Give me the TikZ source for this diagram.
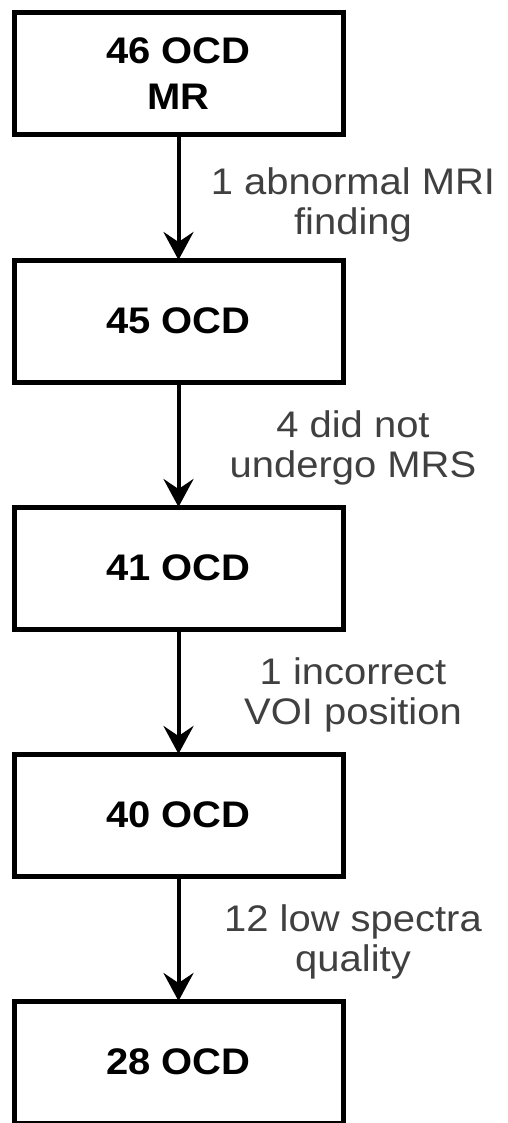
\documentclass[tikz,border=0pt]{standalone}
\usepackage{fontspec}
\setmainfont{Liberation Sans}[FakeStretch=1.08]
\usetikzlibrary{arrows.meta,positioning}

\begin{document}
\begin{tikzpicture}[x=1pt,y=1pt,
    stagebox/.style={draw,line width=5pt,outer sep=0pt,inner sep=0pt,
      minimum width=329pt,minimum height=122pt,align=center,
      font=\fontsize{37}{46}\selectfont\bfseries},
    droplabel/.style={text=black!75,align=center,
      font=\fontsize{37}{40}\selectfont},
    flow/.style={line width=4pt,-{Stealth[length=28pt,width=30pt,inset=10pt]}}]
    \pgfmathsetmacro{\boxgap}{125}
    \pgfmathsetmacro{\labelshift}{174.5}
    \useasboundingbox (0,0) rectangle (508,-1123);
    % stages
    \node[stagebox] (s1) at (178.5,-74) {46 OCD\\MR};
    \node[stagebox,below=\boxgap pt of s1] (s2) {45 OCD};
    \node[stagebox,below=\boxgap pt of s2] (s3) {41 OCD};
    \node[stagebox,below=\boxgap pt of s3] (s4) {40 OCD};
    \node[stagebox,below=\boxgap pt of s4] (s5) {28 OCD};
    % exclusions
    \draw[flow] (s1) -- (s2) node[droplabel,midway,xshift=\labelshift pt,yshift=-7pt] (x1) {1 abnormal MRI\\finding};
    \draw[flow] (s2) -- (s3) node[droplabel,midway,xshift=\labelshift pt,yshift=-3pt] (x2) {4 did not\\undergo MRS};
    \draw[flow] (s3) -- (s4) node[droplabel,midway,xshift=\labelshift pt,yshift=-3pt] (x3) {1 incorrect\\VOI position};
    \draw[flow] (s4) -- (s5) node[droplabel,midway,xshift=\labelshift pt,yshift=-3pt] (x4) {12 low spectra\\quality};
\end{tikzpicture}
\end{document}
